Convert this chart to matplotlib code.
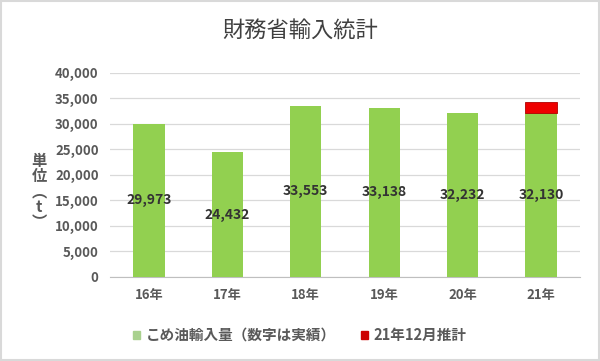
import matplotlib
matplotlib.use("Agg")
import matplotlib.pyplot as plt
from matplotlib.patches import Rectangle

plt.rcParams['font.family'] = ['Noto Sans CJK JP', 'DejaVu Sans']

categories = ["16年", "17年", "18年", "19年", "20年", "21年"]
imports = [29973, 24432, 33553, 33138, 32232, 32130]
estimate = [0, 0, 0, 0, 0, 2200]
yticks = [0, 5000, 10000, 15000, 20000, 25000, 30000, 35000, 40000]

green = "#92D050"
red = "#EE0000"

fig = plt.figure(figsize=(6.0, 3.61), dpi=100)
ax = fig.add_axes([0.183, 0.233, 0.784, 0.565])

x = list(range(len(categories)))
ax.bar(x, imports, width=0.4, color=green, zorder=3)
edges = ["#B00000" if e > 0 else "none" for e in estimate]
ax.bar(x, estimate, width=0.4, bottom=imports, color=red, edgecolor=edges,
       linewidth=0.6, zorder=3)

for xi, v in zip(x, imports):
    ax.text(xi, v / 2, f"{v:,}", ha="center", va="center", fontsize=10,
            color="#333333", fontweight="bold", zorder=4)

ax.set_ylim(0, 40000)
ax.set_xlim(-0.5, len(categories) - 0.5)
ax.set_yticks(yticks)
ax.set_yticklabels([f"{t:,}" for t in yticks], fontsize=9.5, color="#595959", fontweight="bold")
ax.set_xticks(x)
ax.set_xticklabels(categories, fontsize=9.5, color="#595959", fontweight="bold")
ax.tick_params(axis="both", length=0, pad=8)
ax.grid(axis="y", color="#D9D9D9", linewidth=0.9, zorder=0)
for s in ["top", "right", "left"]:
    ax.spines[s].set_visible(False)
ax.spines["bottom"].set_color("#BFBFBF")

fig.text(0.5, 0.917, "財務省輸入統計", ha="center", va="center", fontsize=16, color="#404040")
fig.text(0.065, 0.47, "単\n位\n︵\nt\n︶", ha="center", va="center", fontsize=11,
         color="#595959", linespacing=0.95, fontweight="bold")

# legend
fig.add_artist(Rectangle((0.222, 0.062), 0.012, 0.02, transform=fig.transFigure, color="#A9D18E"))
fig.text(0.243, 0.072, "こめ油輸入量（数字は実績）", ha="left", va="center", fontsize=10.5,
         color="#595959", fontweight="bold")
fig.add_artist(Rectangle((0.602, 0.062), 0.012, 0.02, transform=fig.transFigure, color="#CC0000"))
fig.text(0.622, 0.072, "21年12月推計", ha="left", va="center", fontsize=10.5,
         color="#595959", fontweight="bold")

# border
fig.add_artist(Rectangle((0.002, 0.003), 0.996, 0.994, transform=fig.transFigure,
                         fill=False, edgecolor="#D9D9D9", linewidth=1.5))

fig.savefig("out.png", dpi=100)
